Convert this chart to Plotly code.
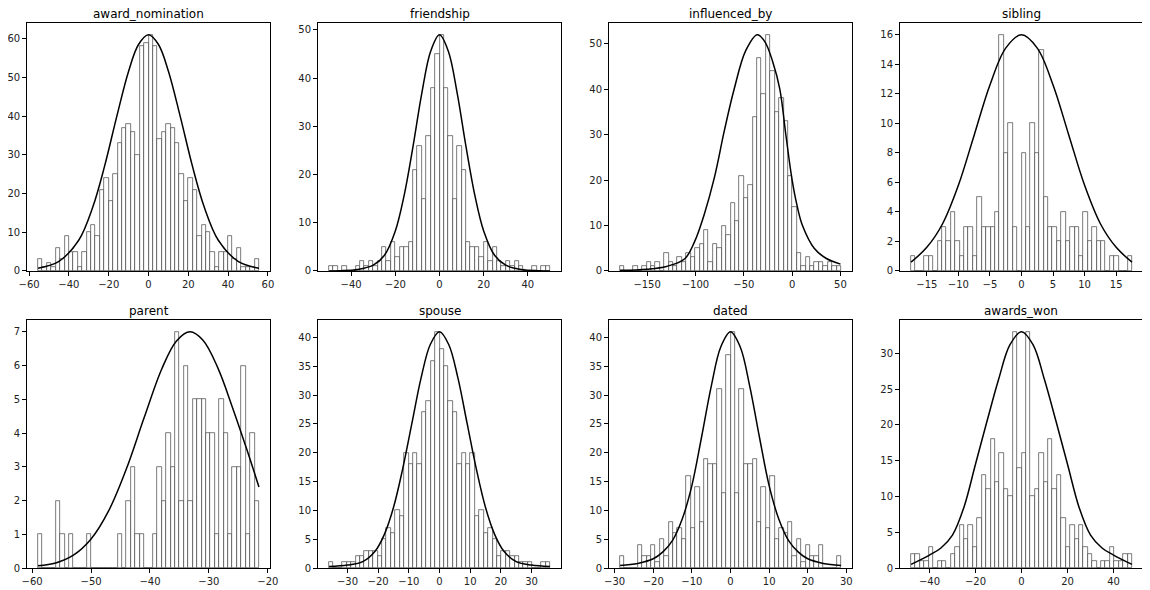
import numpy as np
import plotly.graph_objects as go
from plotly.subplots import make_subplots

# histogram counts (50 bins each) and bin ranges
award_nomination_range = (-55.5, 55.5)
award_nomination_counts = [3, 1, 2, 1, 6, 3, 9, 5, 5, 1, 5, 10, 12, 9, 21, 24, 18, 25, 33, 37, 38, 36, 30, 58, 59,
                           61, 58, 34, 36, 38, 37, 33, 25, 18, 24, 21, 9, 12, 10, 5, 1, 5, 5, 9, 3, 6, 1, 1, 1, 3]
friendship_range = (-50, 50)
friendship_counts = [1, 1, 0, 1, 0, 0, 1, 2, 1, 2, 1, 2, 5, 2, 6, 3, 5, 5, 6, 21, 26, 15, 28, 38, 45,
                     49, 38, 28, 15, 26, 21, 6, 5, 5, 3, 6, 2, 5, 2, 1, 2, 1, 2, 1, 0, 0, 1, 0, 1, 1]
influenced_by_range = (-178, 50.5)
influenced_by_counts = [1, 0, 0, 1, 0, 1, 2, 1, 2, 0, 4, 2, 1, 3, 2, 4, 3, 5, 6, 9, 2, 6, 5, 10, 8,
                        15, 11, 21, 16, 19, 34, 47, 39, 52, 44, 35, 38, 33, 21, 14, 4, 1, 3, 1, 2, 2, 1, 2, 1, 1]
sibling_range = (-17.5, 17.5)
sibling_counts = [1, 0, 0, 1, 1, 0, 2, 3, 2, 4, 2, 1, 3, 3, 1, 5, 3, 3, 3, 4, 16, 8, 10, 3, 0,
                  8, 3, 10, 8, 15, 5, 3, 3, 2, 4, 2, 3, 3, 1, 4, 2, 3, 2, 2, 0, 1, 1, 0, 0, 1]
parent_range = (-59, -21.5)
parent_counts = [1, 0, 0, 0, 2, 1, 0, 1, 0, 0, 0, 1, 0, 0, 0, 0, 0, 0, 1, 0, 2, 3, 1, 1, 0,
                 0, 1, 3, 2, 4, 3, 7, 2, 6, 2, 5, 5, 5, 4, 4, 1, 5, 4, 1, 3, 3, 6, 1, 4, 2]
spouse_range = (-36, 36)
spouse_counts = [1, 0, 0, 1, 1, 1, 2, 2, 3, 3, 3, 2, 5, 7, 6, 10, 9, 20, 18, 20, 18, 27, 29, 36, 41,
                 38, 35, 29, 27, 18, 20, 18, 20, 9, 10, 6, 7, 5, 2, 3, 3, 2, 2, 1, 1, 1, 0, 0, 1, 1]
dated_range = (-28.6, 28.6)
dated_counts = [2, 0, 0, 0, 4, 2, 2, 4, 1, 5, 2, 8, 6, 7, 5, 16, 7, 14, 8, 19, 18, 18, 31, 13, 37,
                41, 13, 31, 18, 18, 19, 8, 14, 7, 16, 5, 7, 6, 8, 2, 5, 1, 4, 2, 2, 4, 0, 0, 0, 2]
awards_won_range = (-48, 48)
awards_won_counts = [2, 2, 1, 1, 3, 0, 1, 1, 0, 2, 3, 6, 4, 6, 3, 7, 13, 11, 18, 12, 16, 11, 10, 33, 14,
                     16, 33, 10, 11, 16, 12, 18, 11, 13, 7, 3, 6, 4, 6, 3, 2, 1, 0, 1, 1, 3, 1, 1, 2, 2]

# fitted bell curves
award_nomination_curve_x = [-55.5, -45, -35, -28, -22, -16, -10, -5, 0, 5, 10, 16, 22, 28, 35, 45, 55.5]
award_nomination_curve_y = [0.7, 2.5, 8.0, 16.5, 27.2, 39.8, 51.6, 58.5, 61, 58.5, 51.6, 39.8, 27.2, 16.5, 8.0, 2.5, 0.7]
friendship_curve_x = [-50, -45, -37, -30, -25, -20, -16, -12, -8, -4, 0, 4, 8, 12, 16, 20, 25, 30, 37, 45, 50]
friendship_curve_y = [0.02, 0.06, 0.3, 1.2, 3.2, 8.3, 15.7, 25.8, 36.9, 45.6, 49, 45.6, 36.9, 25.8, 15.7, 8.3, 3.2, 1.2,
                      0.3, 0.06, 0.02]
influenced_by_curve_x = [-178, -150, -130, -111, -101, -91, -80.5, -70, -60, -48, -36, -28, -20, -12.7, -6.5, 0, 5,
                         10.7, 22.8, 35, 50]
influenced_by_curve_y = [0.15, 0.4, 1.0, 2.7, 6.4, 12.4, 20.5, 31, 40, 48.5, 52, 50.4, 46, 40, 30, 20, 14.5,
                         10, 5, 2.8, 1.5]
sibling_curve_x = [-17.5, -15, -12.5, -10, -7.5, -5, -2.5, 0, 2.5, 5, 7.5, 10, 12.5, 15, 17.5]
sibling_curve_y = [0.6, 1.6, 3.2, 5.8, 9.2, 12.6, 15.1, 16, 15.1, 12.6, 9.2, 5.8, 3.2, 1.6, 0.6]
parent_curve_x = [-59, -56, -53, -50, -47, -44, -41, -38, -35.5, -33.2, -31, -28.5, -26, -23.5, -21.5]
parent_curve_y = [0.07, 0.15, 0.38, 0.86, 1.7, 2.94, 4.45, 5.9, 6.73, 7.0, 6.75, 5.94, 4.76, 3.48, 2.4]
spouse_curve_x = [-36, -30, -25, -21, -18, -15, -12, -9, -6, -3, 0, 3, 6, 9, 12, 15, 18, 21, 25, 30, 36]
spouse_curve_y = [0.25, 0.5, 1.1, 2.9, 5.8, 10.5, 17.2, 25.1, 33.0, 38.8, 41, 38.8, 33.0, 25.1, 17.2, 10.5, 5.8, 2.9,
                  1.1, 0.5, 0.25]
dated_curve_x = [-28.6, -24, -20, -17.5, -15, -12.5, -10, -7.5, -5, -2.5, 0, 2.5, 5, 7.5, 10, 12.5, 15, 17.5, 20, 24, 28.6]
dated_curve_y = [0.45, 0.8, 1.6, 2.8, 4.8, 8.5, 14.3, 22.7, 31.5, 38.4, 41, 38.4, 31.5, 22.7, 14.3, 8.5, 4.8, 2.8, 1.6,
                 0.8, 0.45]
awards_won_curve_x = [-48, -40, -35, -30, -25, -20, -15, -10, -5, 0, 5, 10, 15, 20, 25, 30, 35, 40, 48]
awards_won_curve_y = [0.5, 1.8, 2.8, 4.6, 8.5, 14.5, 20.5, 26.3, 31.2, 33, 31.2, 26.3, 20.5, 14.5, 8.5, 4.6, 2.8,
                      1.8, 0.5]

# x tick spacing and y tick spacing per panel
titles = ["award_nomination", "friendship", "influenced_by", "sibling",
          "parent", "spouse", "dated", "awards_won"]
x_dticks = [20, 20, 50, 5, 10, 10, 10, 20]
y_dticks = [10, 10, 10, 2, 1, 5, 5, 5]

panels = [
    (award_nomination_range, award_nomination_counts, award_nomination_curve_x, award_nomination_curve_y),
    (friendship_range, friendship_counts, friendship_curve_x, friendship_curve_y),
    (influenced_by_range, influenced_by_counts, influenced_by_curve_x, influenced_by_curve_y),
    (sibling_range, sibling_counts, sibling_curve_x, sibling_curve_y),
    (parent_range, parent_counts, parent_curve_x, parent_curve_y),
    (spouse_range, spouse_counts, spouse_curve_x, spouse_curve_y),
    (dated_range, dated_counts, dated_curve_x, dated_curve_y),
    (awards_won_range, awards_won_counts, awards_won_curve_x, awards_won_curve_y),
]

fig = make_subplots(rows=2, cols=4, subplot_titles=titles,
                    horizontal_spacing=0.043, vertical_spacing=0.09)

for i, (rng, counts, cx, cy) in enumerate(panels):
    row, col = i // 4 + 1, i % 4 + 1
    lo, hi = rng
    n = len(counts)
    edges = np.linspace(lo, hi, n + 1)
    centers = (edges[:-1] + edges[1:]) / 2
    width = (hi - lo) / n

    fig.add_trace(go.Bar(
        x=centers, y=counts, width=width,
        marker=dict(color="white", line=dict(color="#444", width=0.7)),
        showlegend=False, hoverinfo="x+y"
    ), row=row, col=col)
    fig.add_trace(go.Scatter(
        x=cx, y=cy, mode="lines", line=dict(color="black", width=1.5, shape="spline"),
        showlegend=False
    ), row=row, col=col)

    pad = (hi - lo) * 0.05
    fig.update_xaxes(range=[lo - pad, hi + pad], dtick=x_dticks[i], tick0=0, row=row, col=col)
    fig.update_yaxes(range=[0, max(counts) * 1.05], dtick=y_dticks[i], tick0=0, row=row, col=col)

axis_style = dict(showline=True, linecolor="black", linewidth=0.8, mirror=True, showgrid=False,
                  zeroline=False, ticks="outside", ticklen=4, tickcolor="black", automargin=False,
                  tickfont=dict(size=10, color="#222"))
fig.update_xaxes(**axis_style)
fig.update_yaxes(**axis_style)

for ann in fig.layout.annotations:
    ann.font = dict(size=12, color="black", family="DejaVu Sans")
    ann.yshift = 0

# the page body adds an 8px offset, so the figure is sized to fit inside it
fig.update_layout(
    width=1142, height=582,
    margin=dict(l=19, r=7, t=15, b=22),
    plot_bgcolor="white", paper_bgcolor="white",
    font=dict(family="DejaVu Sans"),
    bargap=0
)

fig.write_html("out.html")
